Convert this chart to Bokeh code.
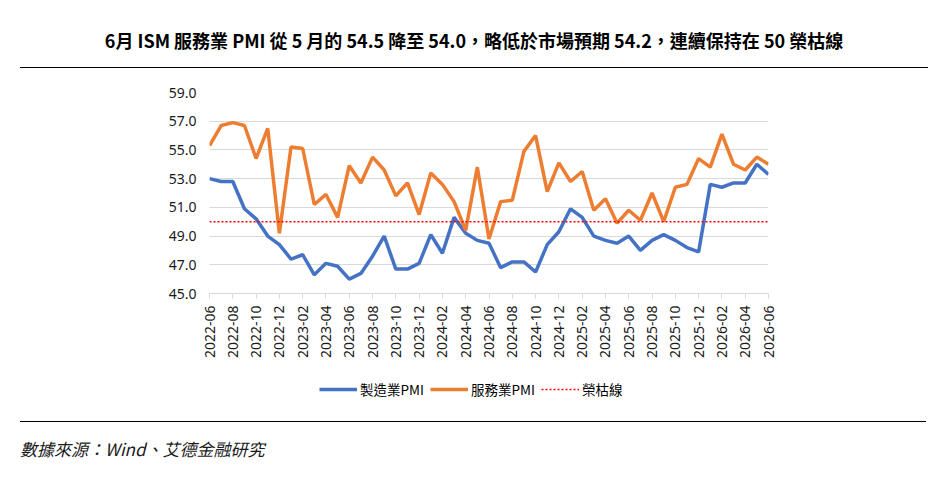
import math
import pandas as pd
from bokeh.plotting import figure
from bokeh.models import (FixedTicker, Legend, LegendItem, PrintfTickFormatter,
                          Range1d, ColumnDataSource, Div)
from bokeh.layouts import column
from bokeh.embed import file_html
from bokeh.resources import INLINE

# ---- data ----
months = [p.strftime("%Y-%m") for p in pd.period_range("2022-06", "2026-06", freq="M")]
manufacturing_pmi = [53.0, 52.8, 52.8, 50.9, 50.2, 49.0, 48.4, 47.4, 47.7, 46.3,
                     47.1, 46.9, 46.0, 46.4, 47.6, 49.0, 46.7, 46.7, 47.1, 49.1,
                     47.8, 50.3, 49.2, 48.7, 48.5, 46.8, 47.2, 47.2, 46.5, 48.4,
                     49.3, 50.9, 50.3, 49.0, 48.7, 48.5, 49.0, 48.0, 48.7, 49.1,
                     48.7, 48.2, 47.9, 52.6, 52.4, 52.7, 52.7, 54.0, 53.3]
services_pmi = [55.3, 56.7, 56.9, 56.7, 54.4, 56.5, 49.2, 55.2, 55.1, 51.2,
                51.9, 50.3, 53.9, 52.7, 54.5, 53.6, 51.8, 52.7, 50.5, 53.4,
                52.6, 51.4, 49.4, 53.8, 48.8, 51.4, 51.5, 54.9, 56.0, 52.1,
                54.1, 52.8, 53.5, 50.8, 51.6, 49.9, 50.8, 50.1, 52.0, 50.0,
                52.4, 52.6, 54.4, 53.8, 56.1, 54.0, 53.6, 54.5, 54.0]
boom_bust_line = [50.0] * len(months)
y_ticks = [45, 47, 49, 51, 53, 55, 57, 59]
series_names = ["製造業PMI", "服務業PMI", "榮枯線"]
title_text = "6月 ISM 服務業 PMI 從 5 月的 54.5 降至 54.0，略低於市場預期 54.2，連續保持在 50 榮枯線"
source_text = "數據來源：Wind、艾德金融研究"

idx = list(range(len(months)))
src = ColumnDataSource(dict(x=idx, m=manufacturing_pmi, s=services_pmi, b=boom_bust_line))

CJK = "'Noto Sans CJK TC', 'Noto Sans', sans-serif"
BLUE, ORANGE, RED = "#4472C4", "#ED7D31", "#FF0000"

title_div = Div(
    text=(f'<div style="position:absolute;left:0;top:28px;width:908px;text-align:center;'
          f'font-family:{CJK};font-size:18px;font-weight:bold;color:#000;white-space:nowrap">{title_text}</div>'
          '<div style="position:absolute;left:0;top:67px;width:908px;height:1px;background:#000"></div>'),
    width=908, height=69, margin=(0, 0, 0, 20))

# ---- main chart ----
p = figure(width=946, height=303, output_backend="svg", toolbar_location=None,
           x_range=Range1d(0, len(months) - 1), y_range=Range1d(45, 59),
           min_border_left=209, min_border_right=178, min_border_top=23,
           min_border_bottom=79, margin=(0, 0, 0, 0))
p.outline_line_color = None

p.line("x", "m", source=src, line_color=BLUE, line_width=3.5)
p.line("x", "s", source=src, line_color=ORANGE, line_width=3.5)
p.line("x", "b", source=src, line_color=RED, line_width=1.5, line_dash="2 2")

p.xgrid.grid_line_color = None
p.ygrid.grid_line_color = "#d9d9d9"
p.ygrid.ticker = FixedTicker(ticks=y_ticks)

p.yaxis.ticker = FixedTicker(ticks=y_ticks)
p.yaxis.formatter = PrintfTickFormatter(format="%.1f")
p.yaxis.axis_line_color = None
p.yaxis.major_tick_line_color = None
p.yaxis.minor_tick_line_color = None
p.yaxis.major_label_text_font = "Noto Sans"
p.yaxis.major_label_text_font_size = "14px"
p.yaxis.major_label_text_color = "#1a1a1a"
p.yaxis.major_label_standoff = 7

p.xaxis.ticker = FixedTicker(ticks=idx[::2])
p.xaxis.major_label_overrides = {i: months[i] for i in idx[::2]}
p.xaxis.major_label_orientation = math.pi / 2
p.xaxis.axis_line_color = "#d9d9d9"
p.xaxis.major_tick_line_color = "#d9d9d9"
p.xaxis.major_tick_out = 5
p.xaxis.major_tick_in = 0
p.xaxis.minor_tick_line_color = None
p.xaxis.major_label_text_font = "Noto Sans"
p.xaxis.major_label_text_font_size = "14px"
p.xaxis.major_label_text_color = "#1a1a1a"
p.xaxis.major_label_standoff = 7

# ---- legend strip (same data and styles; the data sits outside this strip's view) ----
lg = figure(width=946, height=48, output_backend="svg", toolbar_location=None,
            x_axis_type=None, y_axis_type=None,
            x_range=Range1d(0, len(months) - 1), y_range=Range1d(0, 1),
            min_border=0, margin=(0, 0, 0, 0))
lg.outline_line_color = None
lg.xgrid.grid_line_color = None
lg.ygrid.grid_line_color = None
l_m = lg.line("x", "m", source=src, line_color=BLUE, line_width=3.5)
l_s = lg.line("x", "s", source=src, line_color=ORANGE, line_width=3.5)
l_b = lg.line("x", "b", source=src, line_color=RED, line_width=1.5, line_dash="2 2")

legend = Legend(items=[LegendItem(label=series_names[0], renderers=[l_m]),
                       LegendItem(label=series_names[1], renderers=[l_s]),
                       LegendItem(label=series_names[2], renderers=[l_b])],
                orientation="horizontal", location=(110, 21))
legend.border_line_color = None
legend.background_fill_alpha = 0
legend.label_text_font = "Noto Sans CJK TC"
legend.label_text_font_size = "13.5px"
legend.label_text_color = "#000000"
legend.glyph_width = 38
legend.label_standoff = 3
legend.spacing = 6
legend.padding = 0
legend.margin = 0
lg.add_layout(legend, "center")

footer_div = Div(
    text=('<div style="position:absolute;left:0;top:1px;width:906px;height:1px;background:#000"></div>'
          f'<div style="position:absolute;left:0;top:17px;font-family:{CJK};font-size:17px;'
          f'font-style:italic;color:#1a1a1a;white-space:nowrap">{source_text}</div>'),
    width=906, height=67, margin=(0, 0, 0, 20))

layout = column(title_div, p, lg, footer_div, spacing=0)

open("out.html", "w").write(file_html(layout, INLINE))
